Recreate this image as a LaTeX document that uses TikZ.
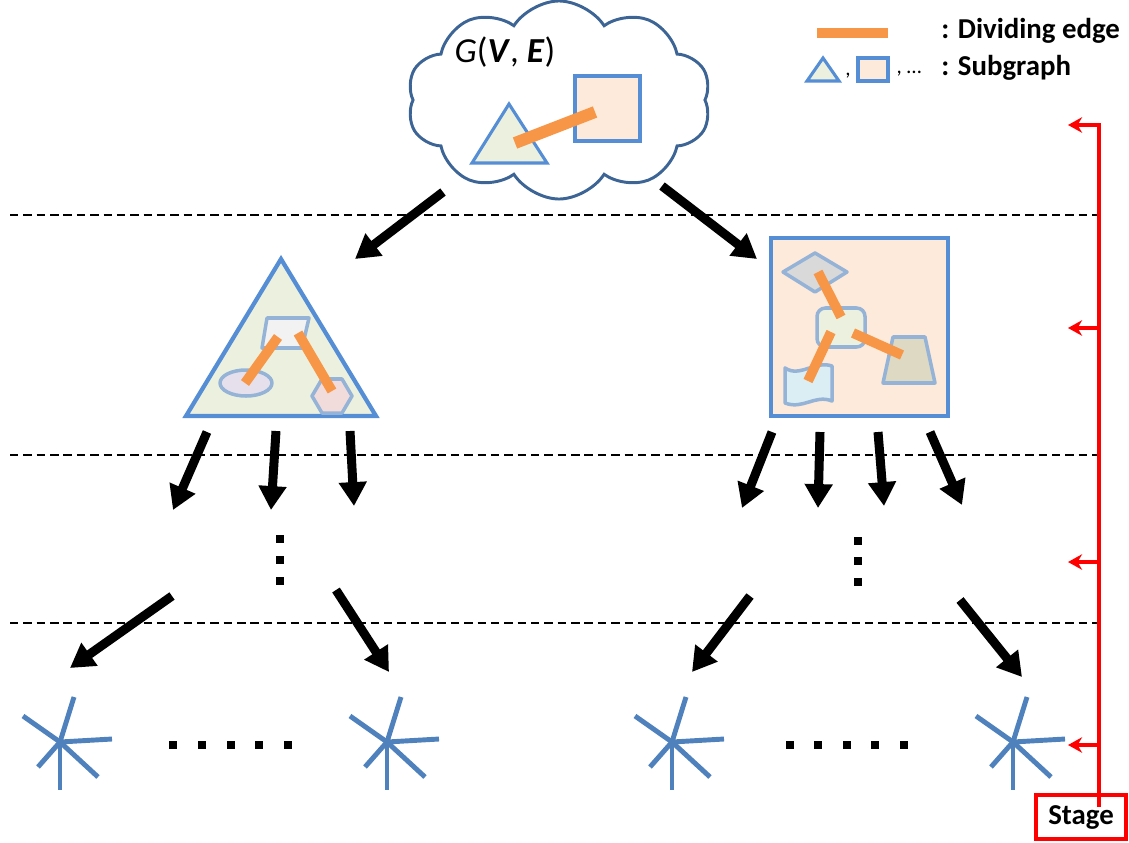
\documentclass[tikz,border=0pt]{standalone}
\usepackage{fontspec}
\setmainfont{Carlito}
\usetikzlibrary{arrows.meta,shapes.symbols,shapes.geometric}
\definecolor{cloudblue}{HTML}{3C6494}
\definecolor{subblue}{HTML}{558ED5}
\definecolor{paleblue}{HTML}{95B3D7}
\definecolor{edgeorange}{HTML}{F79646}
\definecolor{leafblue}{HTML}{4F81BD}
\definecolor{subgreen}{HTML}{EBF1DE}
\definecolor{subpeach}{HTML}{FDEADA}
\definecolor{subgrey}{HTML}{D9D9D9}
\definecolor{subtan}{HTML}{DDD9C3}
\definecolor{subcyan}{HTML}{DBEEF4}
\definecolor{sublilac}{HTML}{E6E0EC}
\definecolor{subpink}{HTML}{F2DCDB}

\tikzset{
  leaf/.pic={
    \draw[leafline] (0,0) -- (14,-45);
    \draw[leafline] (0,0) -- (-37,-26);
    \draw[leafline] (0,0) -- (52,-3);
    \draw[leafline] (0,0) -- (38,35);
    \draw[leafline] (0,0) -- (-22,25);
    \draw[leafline] (0,0) -- (0,48);
  }
}

\begin{document}
\begin{tikzpicture}[
  x=0.025cm, y=-0.025cm,
  bigarrow/.style={line width=6.4pt, -{Triangle[length=17pt,width=19pt]}},
  stagearrow/.style={draw=red, line width=3.2pt, -{Stealth[length=10pt,width=11pt]}},
  divide/.style={draw=edgeorange, line width=7pt},
  subgraph/.style={draw=subblue, line width=2.8pt, line join=miter},
  inner/.style={draw=paleblue, line width=2.5pt, line join=round},
  leafline/.style={draw=leafblue, line width=3.5pt},
  level/.style={dashed, line width=1pt, dash pattern=on 6pt off 3.5pt},
  dot/.style={fill=black, minimum size=5pt, inner sep=0pt},
  legend/.style={anchor=west, font=\bfseries\fontsize{20.5}{24}\selectfont, inner sep=0pt}
]
\useasboundingbox (0,0) rectangle (1129,842);

% whole graph
\node[cloud, draw=cloudblue, line width=2.1pt, cloud puffs=10, cloud puff arc=115,
      aspect=1.6, minimum width=7.6cm, minimum height=4.95cm] (graph) at (559,100) {};
\node[font=\fontsize{25}{28}\selectfont] (gname) at (505,52) {\textit{G}(\textbf{\textit{V}}, \textbf{\textit{E}})};
\draw[subgraph, line width=2.2pt, fill=subgreen] (472,163) -- (509,104) -- (547,163) -- cycle;
\draw[subgraph, line width=2.2pt, fill=subpeach] (575,76) rectangle (640,141);
\draw[divide, line width=8.5pt] (515,143) -- (595,112);

% legend
\draw[divide, line width=6.5pt] (817,33) -- (888,33);
\node[legend] (ldiv) at (941,31) {: Dividing edge};
\draw[subgraph, line width=2.2pt, fill=subgreen] (807,81) -- (823,58) -- (839,81) -- cycle;
\node[font=\fontsize{15}{18}\selectfont] (lc1) at (848,76) {,};
\draw[subgraph, line width=2.2pt, fill=subpeach] (858,58) rectangle (888,81);
\node[font=\fontsize{15}{18}\selectfont] (lc2) at (909,74) {, \dots};
\node[legend] (lsub) at (941,68) {: Subgraph};

% levels
\foreach \y in {215,455,623}
  \draw[level] (10,\y) -- (1105,\y);

% first subgraph
\draw[subgraph, line width=3pt, fill=subgreen] (186,416) -- (281,259) -- (376,416) -- cycle;
\draw[inner, fill=black!5] (267,318) -- (309,318) -- (302,348) -- (262,348) -- cycle;
\draw[inner, fill=sublilac] (246,383) ellipse (26 and 13);
\draw[inner, fill=subpink] (352,396) -- (342,379) -- (322,379) -- (312,396) -- (322,413) -- (342,413) -- cycle;
\draw[divide] (278,337) -- (245,383);
\draw[divide] (298,333) -- (332,391);

% second subgraph
\draw[subgraph, line width=3pt, fill=subpeach] (771,238) rectangle (948,416);
\draw[inner, fill=subgrey] (783,272) -- (815,253) -- (847,272) -- (815,292) -- cycle;
\draw[inner, fill=subgreen, rounded corners=6pt] (817,308) rectangle (865,347);
\draw[inner, fill=subtan] (893,337) -- (925,337) -- (935,383) -- (883,383) -- cycle;
\draw[inner, fill=subcyan] (785,368) .. controls (800,378) and (815,360) .. (832,366)
  -- (832,401) .. controls (815,394) and (803,410) .. (785,403) -- cycle;
\draw[divide] (818,272) -- (841,317);
\draw[divide] (853,333) -- (902,355);
\draw[divide] (831,332) -- (808,381);

% splitting
\coordinate (gl) at (443,192);  \coordinate (tri) at (355,259);
\coordinate (gr) at (662,186);  \coordinate (sq) at (757,259);
\draw[bigarrow] (gl) -- (tri);
\draw[bigarrow] (gr) -- (sq);

\coordinate (t1) at (207,432); \coordinate (t1e) at (173,510);
\coordinate (t2) at (276,431); \coordinate (t2e) at (271,510);
\coordinate (t3) at (350,431); \coordinate (t3e) at (354,506);
\draw[bigarrow] (t1) -- (t1e);
\draw[bigarrow] (t2) -- (t2e);
\draw[bigarrow] (t3) -- (t3e);

\coordinate (s1) at (772,432); \coordinate (s1e) at (742,508);
\coordinate (s2) at (820,432); \coordinate (s2e) at (818,508);
\coordinate (s3) at (878,432); \coordinate (s3e) at (884,506);
\coordinate (s4) at (930,432); \coordinate (s4e) at (962,505);
\draw[bigarrow] (s1) -- (s1e);
\draw[bigarrow] (s2) -- (s2e);
\draw[bigarrow] (s3) -- (s3e);
\draw[bigarrow] (s4) -- (s4e);

\foreach \y in {539,560,581} \node[dot] at (280,\y) {};
\foreach \y in {541,561,582} \node[dot] at (858,\y) {};

\coordinate (u1) at (172,596); \coordinate (u1e) at (70,668);
\coordinate (u2) at (336,590); \coordinate (u2e) at (389,672);
\coordinate (u3) at (750,596); \coordinate (u3e) at (692,672);
\coordinate (u4) at (960,600); \coordinate (u4e) at (1022,677);
\draw[bigarrow] (u1) -- (u1e);
\draw[bigarrow] (u2) -- (u2e);
\draw[bigarrow] (u3) -- (u3e);
\draw[bigarrow] (u4) -- (u4e);

% single vertices
\pic at (60,742) {leaf};
\pic at (387,742) {leaf};
\pic at (672,742) {leaf};
\pic at (1013,742) {leaf};
\foreach \x in {173,202,231,259,288} \node[dot] at (\x,745) {};
\foreach \x in {790,818,847,875,904} \node[dot] at (\x,745) {};

% stages
\node[draw=red, line width=2.8pt, minimum width=2.25cm, minimum height=1.1cm,
      font=\bfseries\fontsize{20.5}{24}\selectfont] (stage) at (1081,817) {Stage};
\coordinate (top) at (1099,125);
\coordinate (foot) at (1099,807);
\draw[stagearrow] (foot) -- (top) -- (1068,125);
\foreach \y in {328,562,745}
  \draw[stagearrow] (1099,\y) -- (1068,\y);

\end{tikzpicture}
\end{document}
